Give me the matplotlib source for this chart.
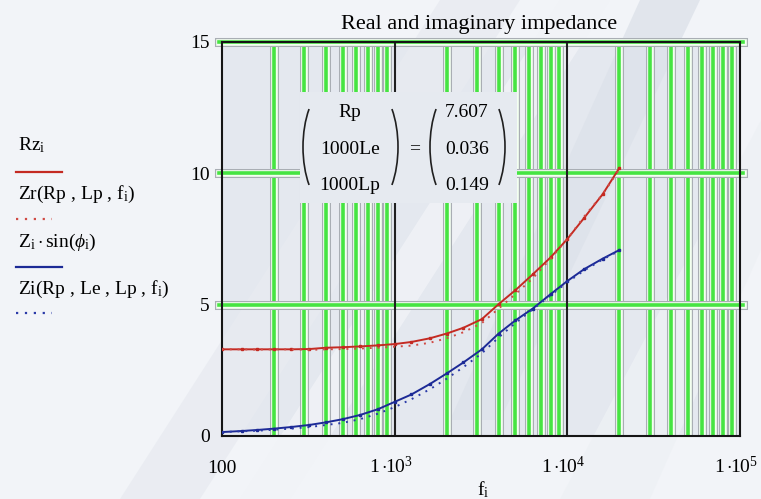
import matplotlib.pyplot as plt
import matplotlib.patheffects as pe
from matplotlib.patches import Rectangle, Arc, Polygon

plt.rcParams['font.family'] = ['Liberation Serif', 'DejaVu Serif']
plt.rcParams['mathtext.fontset'] = 'custom'
plt.rcParams['mathtext.rm'] = 'Liberation Serif'
plt.rcParams['mathtext.it'] = 'Liberation Serif:italic'
plt.rcParams['mathtext.bf'] = 'Liberation Serif:bold'

# frecuencias de medida (Hz)
f = [100, 130, 160, 200, 250, 320, 400, 500, 630, 800, 1000, 1250, 1600,
     2000, 2500, 3200, 4000, 5000, 6300, 8000, 10000, 12500, 16000, 20000]

# parte real medida Rz_i y modelo Zr(Rp, Lp, f_i)
rz = [3.30, 3.30, 3.30, 3.30, 3.30, 3.31, 3.36, 3.38, 3.41, 3.45, 3.50, 3.58,
      3.72, 3.90, 4.12, 4.45, 5.02, 5.55, 6.15, 6.80, 7.50, 8.30, 9.20, 10.20]
zr = [3.30, 3.30, 3.29, 3.30, 3.30, 3.28, 3.30, 3.31, 3.33, 3.36, 3.40, 3.44,
      3.55, 3.72, 3.95, 4.30, 4.85, 5.40, 6.00, 6.75, 7.50, 8.35, 9.20, 10.15]

# parte imaginaria medida Z_i sin(phi_i) y modelo Zi(Rp, Le, Lp, f_i)
zs = [0.15, 0.19, 0.23, 0.28, 0.34, 0.42, 0.52, 0.64, 0.80, 1.02, 1.30, 1.58,
      1.98, 2.38, 2.80, 3.30, 3.90, 4.40, 4.85, 5.40, 5.90, 6.35, 6.75, 7.08]
zi = [0.15, 0.18, 0.20, 0.24, 0.28, 0.34, 0.42, 0.50, 0.64, 0.85, 1.10, 1.40,
      1.78, 2.18, 2.62, 3.15, 3.75, 4.30, 4.82, 5.35, 5.85, 6.30, 6.72, 7.05]

params = ['Rp', '1000Le', '1000Lp']
valores = ['7.607', '0.036', '0.149']

xticks = [100, 1e3, 1e4, 1e5]
xlabels = ['100', r'$1\cdot\!\!10^{3}$', r'$1\cdot\!\!10^{4}$', r'$1\cdot\!\!10^{5}$']
yticks = [0, 5, 10, 15]

W, H = 761, 499
fig = plt.figure(figsize=(W / 100, H / 100), dpi=100)
fig.patch.set_facecolor('#f2f4f8')

# fondo con marca de agua
bg = fig.add_axes([0, 0, 1, 1], zorder=0)
bg.set_xlim(0, W)
bg.set_ylim(H, 0)
bg.axis('off')
bg.add_patch(Rectangle((222, 42), 518, 394, facecolor='#e4e8ef', edgecolor='none'))
for pts, col in [([(120, 499), (200, 499), (520, 0), (440, 0)], '#e8ebf1'),
                 ([(240, 499), (290, 499), (610, 0), (560, 0)], '#f1f3f7'),
                 ([(560, 499), (650, 499), (761, 250), (761, 120)], '#eef1f5'),
                 ([(640, 0), (700, 0), (500, 420), (450, 420)], '#dde2ea')]:
    bg.add_patch(Polygon(pts, closed=True, facecolor=col, edgecolor='none', alpha=0.8))

ax = fig.add_axes([222 / W, 1 - 436 / H, 518 / W, 394 / H], zorder=1)
ax.patch.set_alpha(0)
ax.set_xscale('log')
ax.set_xlim(100, 1e5)
ax.set_ylim(0, 15)

verde = [pe.Stroke(linewidth=6.5, foreground='#a9aeb4'),
         pe.Stroke(linewidth=4.8, foreground='#f3fff0'),
         pe.Normal()]
for dec in [100, 1000, 10000]:
    for k in range(2, 10):
        ax.axvline(k * dec, color='#46e442', lw=2.6, zorder=1, path_effects=verde)
for yv in [5, 10, 15]:
    ax.axhline(yv, xmin=-0.006, xmax=1.006, color='#46e442', lw=2.6, zorder=1,
               path_effects=verde, clip_on=False)
for dec in [1000, 10000]:
    ax.axvline(dec, color='#202020', lw=1.5, zorder=2)

ax.plot(f, rz, color='#c42a22', lw=1.4, marker='s', ms=2, zorder=4)
ax.plot(f, zr, color='#d04a44', lw=1.4, ls=(0, (1, 3)), zorder=4)
ax.plot(f, zs, color='#1c2a96', lw=1.4, marker='s', ms=2, zorder=4)
ax.plot(f, zi, color='#2a3aa8', lw=1.4, ls=(0, (1, 3)), zorder=4)

for s in ax.spines.values():
    s.set_color('#151515')
    s.set_linewidth(1.5)
ax.set_xticks(xticks)
ax.set_xticklabels([])
ax.set_xticks([], minor=True)
ax.set_yticks(yticks)
ax.tick_params(length=0, labelsize=14, pad=9)
xt = ax.get_xaxis_transform()
for xv, lab in zip(xticks, xlabels):
    ax.text(xv * 0.95 if xv > 100 else xv, -0.094, lab, transform=xt,
            ha='center', va='baseline', fontsize=14, clip_on=False)
ax.text(0.505, -0.15, r'f$_\mathrm{i}$', transform=ax.transAxes,
        ha='center', va='baseline', fontsize=14)

# capa superior: titulo, leyenda de Mathcad y matriz de parámetros
ov = fig.add_axes([0, 0, 1, 1], zorder=3)
ov.set_xlim(0, W)
ov.set_ylim(H, 0)
ov.axis('off')

ov.text(479, 29, 'Real and imaginary impedance', ha='center', va='baseline', fontsize=16)

ov.add_patch(Rectangle((300, 92), 217, 111, facecolor='#e6eaf0', edgecolor='none'))
for cx, t1, t2 in [(331, 120, 240), (370, -60, 60), (458, 120, 240), (477, -60, 60)]:
    ov.add_patch(Arc((cx, 147), 56, 122, theta1=t1, theta2=t2, color='#202020', lw=1.2))
for i, (p, v) in enumerate(zip(params, valores)):
    yy = 112 + i * 37
    ov.text(350, yy, p, ha='center', va='center', fontsize=14)
    ov.text(467, yy, v, ha='center', va='center', fontsize=14)
ov.text(415, 149, '=', ha='center', va='center', fontsize=14)

ley = [(r'Rz$_\mathrm{i}$', 145, '#c42a22', '-', 172),
       (r'Zr(Rp , Lp , f$_\mathrm{i}$)', 194, '#d04a44', ':', 219),
       (r'Z$_\mathrm{i}\cdot$sin($\phi_\mathrm{i}$)', 242, '#1c2a96', '-', 267),
       (r'Zi(Rp , Le , Lp , f$_\mathrm{i}$)', 289, '#2a3aa8', ':', 313)]
for txt, ty, col, ls, ly in ley:
    ov.text(18, ty, txt, ha='left', va='center', fontsize=14)
    if ls == '-':
        ov.plot([16, 62], [ly, ly], color=col, lw=1.6)
    else:
        ov.plot([16, 52], [ly, ly], color=col, lw=1.6, ls=(0, (1, 3)))

fig.savefig('out.png', dpi=100)
